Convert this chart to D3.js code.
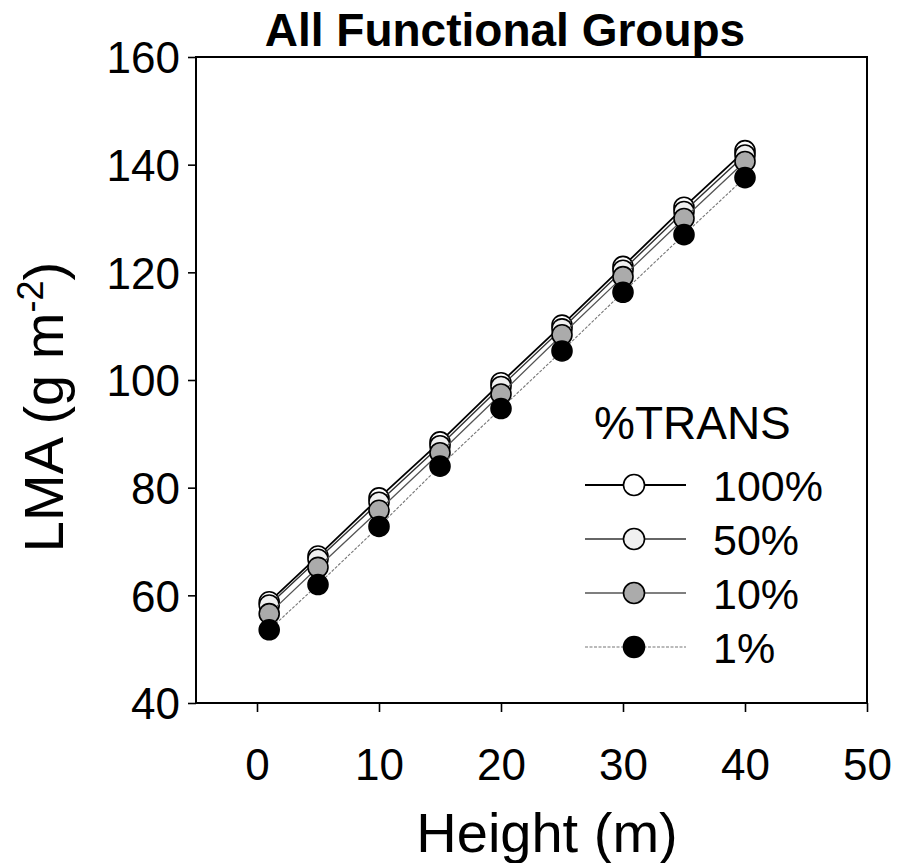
<!DOCTYPE html>
<html>
<head>
<meta charset="utf-8">
<script src="https://cdn.jsdelivr.net/npm/d3@7"></script>
<style>
  body { margin: 0; background: #fff; }
  text { font-family: "Liberation Sans", Arial, sans-serif; }
</style>
</head>
<body>
<svg id="chart" width="899" height="863"></svg>
<script>
var heights = [1, 5, 10, 15, 20, 25, 30, 35, 40];
var trans100 = [58.8, 67.3, 78.1, 88.5, 99.5, 110.2, 121.1, 132.1, 142.6];
var trans50  = [58.2, 66.7, 77.3, 87.8, 98.8, 109.5, 120.4, 131.3, 141.8];
var trans10  = [56.6, 65.2, 75.8, 86.5, 97.4, 108.4, 119.2, 130.0, 140.6];
var trans1   = [53.6, 62.0, 72.8, 84.0, 94.7, 105.4, 116.3, 127.0, 137.6];
var seriesNames = ["100%", "50%", "10%", "1%"];
var xTicks = [0, 10, 20, 30, 40, 50];
var yTicks = [40, 60, 80, 100, 120, 140, 160];

var svg = d3.select("#chart"),
    margin = {top: 57, right: 32, bottom: 160, left: 196},
    width = svg.attr("width") - margin.left - margin.right,
    height = svg.attr("height") - margin.top - margin.bottom,
    g = svg.append("g").attr("transform", "translate(" + margin.left + "," + margin.top + ")");

var x = d3.scaleLinear().domain([-5, 50]).range([0, width]),
    y = d3.scaleLinear().domain([40, 160]).range([height, 0]);

// look of each series, same order as seriesNames
var styles = {
  "100%": {stroke: "#000", width: 1.8, dash: null, fill: "#fff"},
  "50%":  {stroke: "#333", width: 1.4, dash: null, fill: "#f0f0f0"},
  "10%":  {stroke: "#555", width: 1.3, dash: null, fill: "#ababab"},
  "1%":   {stroke: "#777", width: 1.1, dash: "3,1.5", fill: "#000"}
};

var series = [trans100, trans50, trans10, trans1].map(function(vals, i) {
  return {
    id: seriesNames[i],
    values: heights.map(function(h, j) { return {h: h, v: vals[j]}; })
  };
});

var line = d3.line()
    .x(function(d) { return x(d.h); })
    .y(function(d) { return y(d.v); });

// frame
g.append("rect")
    .attr("width", width)
    .attr("height", height)
    .attr("fill", "none")
    .attr("stroke", "#000")
    .attr("stroke-width", 2);

var xAxis = g.append("g")
    .attr("transform", "translate(0," + height + ")")
    .call(d3.axisBottom(x).tickValues(xTicks).tickSize(9).tickPadding(37));

var yAxis = g.append("g")
    .call(d3.axisLeft(y).tickValues(yTicks).tickSize(8).tickPadding(8));

[xAxis, yAxis].forEach(function(ax) {
  ax.select(".domain").remove();
  ax.selectAll("line").attr("stroke-width", 1.6);
  ax.selectAll("text")
      .attr("font-size", 44)
      .attr("fill", "#000")
      .style("font-family", "'Liberation Sans', Arial, sans-serif");
});
yAxis.selectAll("text").attr("dy", "0.36em");

var s = g.selectAll(".series")
  .data(series)
  .enter().append("g")
    .attr("class", "series");

s.append("path")
    .attr("fill", "none")
    .attr("d", function(d) { return line(d.values); })
    .attr("stroke", function(d) { return styles[d.id].stroke; })
    .attr("stroke-width", function(d) { return styles[d.id].width; })
    .attr("stroke-dasharray", function(d) { return styles[d.id].dash; });

s.selectAll("circle")
  .data(function(d) { return d.values.map(function(p) { return {h: p.h, v: p.v, id: d.id}; }); })
  .enter().append("circle")
    .attr("cx", function(d) { return x(d.h); })
    .attr("cy", function(d) { return y(d.v); })
    .attr("r", 10)
    .attr("fill", function(d) { return styles[d.id].fill; })
    .attr("stroke", "#000")
    .attr("stroke-width", 1.6);

// title
svg.append("text")
    .attr("x", 505)
    .attr("y", 46)
    .attr("text-anchor", "middle")
    .attr("font-size", 46)
    .attr("font-weight", "bold")
    .text("All Functional Groups");

// axis titles
svg.append("text")
    .attr("x", 547)
    .attr("y", 852)
    .attr("text-anchor", "middle")
    .attr("font-size", 56)
    .text("Height (m)");

var yl = svg.append("text")
    .attr("transform", "translate(63,407) rotate(-90)")
    .attr("text-anchor", "middle")
    .attr("font-size", 56);
yl.append("tspan").text("LMA (g m");
yl.append("tspan").attr("font-size", 36).attr("dy", -20).text("-2");
yl.append("tspan").attr("dy", 20).text(")");

// legend
var legend = svg.append("g").attr("transform", "translate(585,0)");

legend.append("text")
    .attr("x", 9)
    .attr("y", 439)
    .attr("font-size", 46)
    .text("%TRANS");

var items = legend.selectAll(".item")
  .data(seriesNames)
  .enter().append("g")
    .attr("class", "item")
    .attr("transform", function(d, i) { return "translate(0," + (485 + i * 54) + ")"; });

items.append("line")
    .attr("x1", 0)
    .attr("x2", 101)
    .attr("stroke", function(d) { return styles[d].stroke; })
    .attr("stroke-width", function(d) { return styles[d].width; })
    .attr("stroke-dasharray", function(d) { return styles[d].dash; });

items.append("circle")
    .attr("cx", 49)
    .attr("r", 10.5)
    .attr("fill", function(d) { return styles[d].fill; })
    .attr("stroke", "#000")
    .attr("stroke-width", 1.6);

items.append("text")
    .attr("x", 128)
    .attr("y", 16)
    .attr("font-size", 43)
    .text(function(d) { return d; });
</script>
</body>
</html>
